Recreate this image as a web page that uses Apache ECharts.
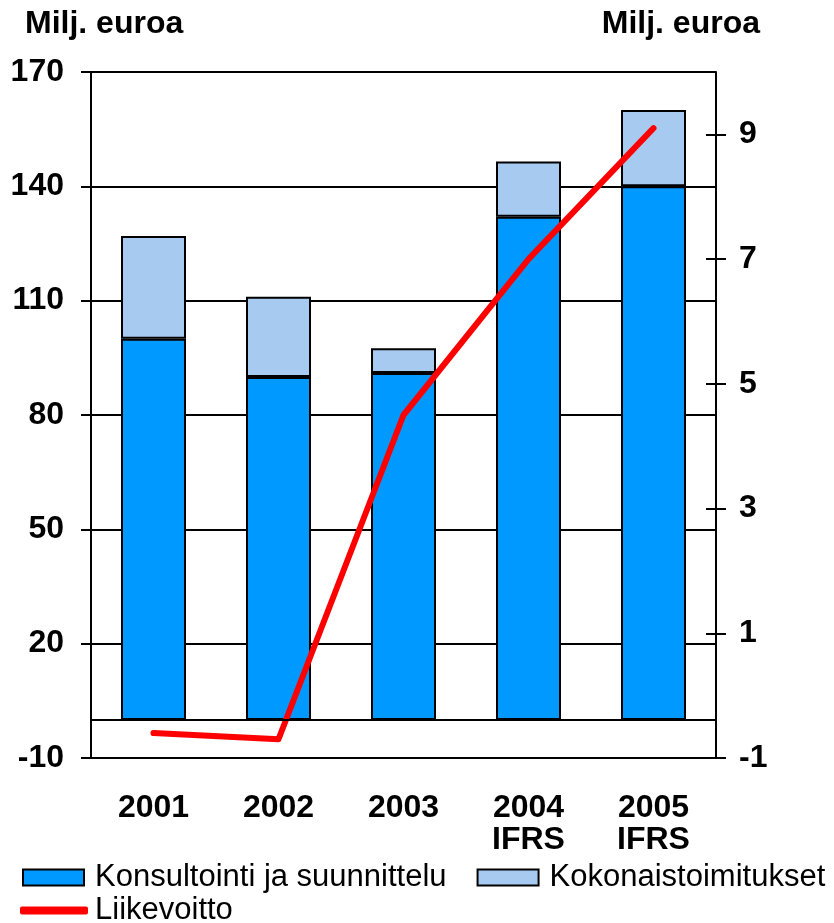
<!DOCTYPE html>
<html>
<head>
<meta charset="utf-8">
<script src="https://cdn.jsdelivr.net/npm/echarts@6/dist/echarts.min.js"></script>
<style>
html,body{margin:0;padding:0;background:#fff;}
#chart{width:834px;height:923px;}
</style>
</head>
<body>
<div id="chart"></div>
<script>
const categories = ['2001', '2002', '2003', '2004\nIFRS', '2005\nIFRS'];
const konsultointi = [100, 90, 91, 132, 140];
const kokonais = [27, 21, 6.5, 14.5, 20];
const liikevoitto = [-0.6, -0.7, 4.5, 7.0, 9.1];
const leftTicks = { min: -10, max: 170, interval: 30 };
const rightTickValues = [-1, 1, 3, 5, 7, 9];

const FONT = 'Liberation Sans, Arial, sans-serif';
const chart = echarts.init(document.getElementById('chart'));

chart.setOption({
  animation: false,
  backgroundColor: '#fff',
  title: [
    { text: 'Milj. euroa', left: 20, top: 3, textStyle: { fontFamily: FONT, fontWeight: 'bold', fontSize: 32, color: '#000' } },
    { text: 'Milj. euroa', right: 69, top: 3, textStyle: { fontFamily: FONT, fontWeight: 'bold', fontSize: 32, color: '#000' } }
  ],
  legend: [
    {
      data: [{ name: 'Konsultointi ja suunnittelu', icon: 'rect' }, { name: 'Kokonaistoimitukset', icon: 'rect' }],
      left: 22, top: 862, itemWidth: 61, itemHeight: 16, itemGap: 30,
      textStyle: { fontFamily: FONT, fontSize: 31, color: '#000', padding: [0, 0, 0, 6] },
      padding: 0
    },
    {
      data: [{ name: 'Liikevoitto', icon: 'roundRect', itemStyle: { color: '#ff0000', borderWidth: 0 } }],
      left: 20, top: 895, itemWidth: 68, itemHeight: 8, itemGap: 10,
      textStyle: { fontFamily: FONT, fontSize: 31, color: '#000', padding: [0, 0, 0, 2] },
      padding: 0
    }
  ],
  grid: { left: 91, right: 118, top: 72, bottom: 165, containLabel: false },
  xAxis: {
    type: 'category',
    data: categories,
    position: 'bottom',
    axisLine: { show: false, onZero: false },
    axisTick: { show: false },
    axisLabel: { margin: 34, fontFamily: FONT, fontWeight: 'bold', fontSize: 32, lineHeight: 32, color: '#000' }
  },
  yAxis: [
    {
      type: 'value', min: leftTicks.min, max: leftTicks.max, interval: leftTicks.interval,
      position: 'left',
      axisLine: { show: true, lineStyle: { color: '#000', width: 2 } },
      axisTick: { show: true, inside: false, length: 10, lineStyle: { color: '#000', width: 2 } },
      splitLine: { show: true, lineStyle: { color: '#000', width: 2 } },
      axisLabel: { margin: 27, fontFamily: FONT, fontWeight: 'bold', fontSize: 32, color: '#000' }
    },
    {
      type: 'value', min: -1, max: 10,
      position: 'right',
      axisLine: { show: true, lineStyle: { color: '#000', width: 2 } },
      axisTick: { show: true, inside: false, length: 10, customValues: rightTickValues, lineStyle: { color: '#000', width: 2 } },
      splitLine: { show: false },
      axisLabel: { margin: 23, customValues: rightTickValues, fontFamily: FONT, fontWeight: 'bold', fontSize: 32, color: '#000' }
    },
    {
      type: 'value', min: -1, max: 10,
      position: 'right',
      axisLine: { show: false },
      axisTick: { show: true, inside: true, length: 10, customValues: rightTickValues, lineStyle: { color: '#000', width: 2 } },
      splitLine: { show: false },
      axisLabel: { show: false }
    }
  ],
  series: [
    {
      name: 'Konsultointi ja suunnittelu', type: 'bar', stack: 'total', data: konsultointi,
      barWidth: 65,
      itemStyle: { color: '#0099FF', borderColor: '#000', borderWidth: 2 },
      markLine: {
        silent: true, symbol: 'none', label: { show: false },
        lineStyle: { color: '#000', width: 2, type: 'solid' },
        data: [{ yAxis: 0 }]
      }
    },
    {
      name: 'Kokonaistoimitukset', type: 'bar', stack: 'total', data: kokonais,
      barWidth: 65,
      itemStyle: { color: '#A6CAF0', borderColor: '#000', borderWidth: 2 }
    },
    {
      name: 'Liikevoitto', type: 'line', yAxisIndex: 1, data: liikevoitto,
      symbol: 'none', showSymbol: false,
      lineStyle: { color: '#ff0000', width: 6, cap: 'round', join: 'round' },
      itemStyle: { color: '#ff0000' }
    }
  ]
});
</script>
</body>
</html>
